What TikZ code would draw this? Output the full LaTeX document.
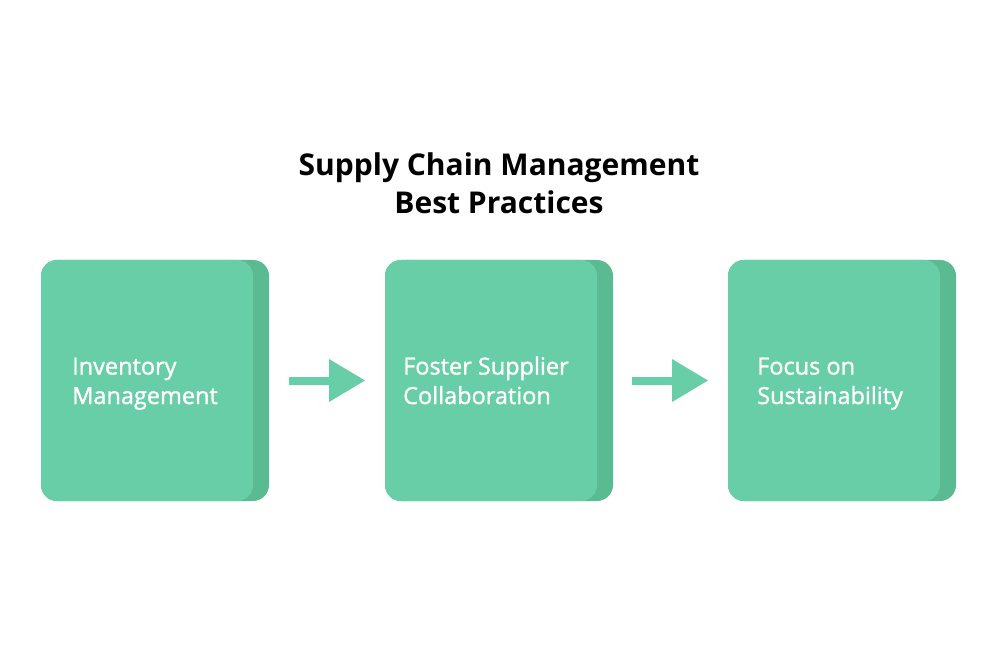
\documentclass[tikz,border=0pt]{standalone}
\usepackage{fontspec}
\setmainfont{Open Sans}
\newfontfamily\lblfont{Open Sans}[FakeBold=1.3]
\definecolor{boxfront}{RGB}{104,206,168}
\definecolor{boxback}{RGB}{90,186,145}
\begin{document}
\begin{tikzpicture}[x=1pt,y=-1pt,
  back/.style={fill=boxback,rounded corners=16pt},
  front/.style={fill=boxfront,rounded corners=16pt},
  lbl/.style={text=white,font=\lblfont\fontsize{23.5}{29.5}\selectfont,align=left,anchor=base west,inner sep=0pt},
  arrowshape/.style={fill=boxfront}]
\useasboundingbox (0,0) rectangle (998,652);
\node[font=\bfseries\fontsize{30}{38}\selectfont,align=center,anchor=base] (title) at (499,214) {Supply Chain Management\\Best Practices};
\foreach \i/\x in {1/41,2/385,3/728}{
  \fill[back] (\x,260) rectangle ++(228,241);
  \fill[front] (\x,260) rectangle ++(212,241);
  \coordinate (b\i) at (\x,380);
}
\node[lbl] (t1) at (72,404) {Inventory\\Management};
\node[lbl] (t2) at (403,404) {Foster Supplier\\Collaboration};
\node[lbl] (t3) at (757,404) {Focus on\\Sustainability};
\foreach \x in {289,632}{
  \fill[arrowshape] (\x,377) -- (\x+40,377) -- (\x+40,359) -- (\x+76,380.5) -- (\x+40,402) -- (\x+40,385) -- (\x,385) -- cycle;
}
\end{tikzpicture}
\end{document}
